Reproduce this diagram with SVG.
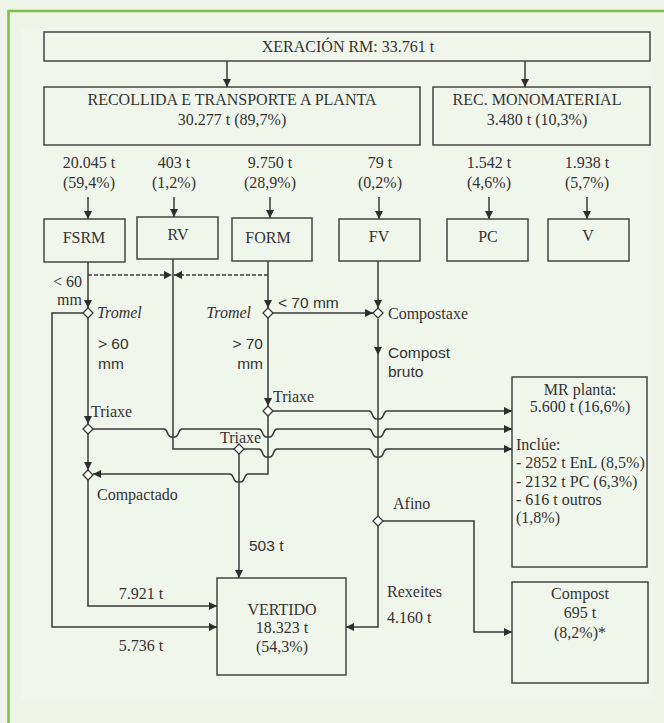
<svg xmlns="http://www.w3.org/2000/svg" width="664" height="723" viewBox="0 0 664 723">
<defs>
<style>
.t{font-family:"Liberation Serif",serif;font-size:16px;fill:#333}
.i{font-style:italic}
.s{font-family:"Liberation Sans",sans-serif;font-size:15.5px;fill:#333}
.m{text-anchor:middle}
.e{text-anchor:end}
.box{fill:none;stroke:#464646;stroke-width:1.5}
.ln{fill:none;stroke:#3a3a3a;stroke-width:1.5}
.ds{stroke-dasharray:4 2}
.dm{fill:#fff;stroke:#3a3a3a;stroke-width:1.3}
</style>
<marker id="a" viewBox="0 0 10 10" refX="10" refY="5" markerWidth="8" markerHeight="8" markerUnits="userSpaceOnUse" orient="auto"><path d="M0,0 L10,5 L0,10 z" fill="#2e2e2e"/></marker>
</defs>
<rect x="0" y="0" width="664" height="723" fill="#eef4e7"/>
<rect x="21" y="28" width="634" height="672" fill="#f1f6ec"/>
<rect x="8.5" y="11" width="670" height="730" fill="none" stroke="#7cc142" stroke-width="2.5"/>

<g id="xeracion"><rect class="box" x="44" y="32" width="606" height="29" stroke-width="1.8"/><text class="t m" x="348" y="52">XERACIÓN RM: 33.761 t</text></g>
<g id="recollida"><rect class="box" x="44" y="87" width="376" height="58"/><text class="t m" x="232" y="105">RECOLLIDA E TRANSPORTE A PLANTA</text><text class="t m" x="232" y="125">30.277 t (89,7%)</text></g>
<g id="monomaterial"><rect class="box" x="433" y="87" width="217" height="58"/><text class="t m" x="537" y="105">REC. MONOMATERIAL</text><text class="t m" x="537" y="125">3.480 t (10,3%)</text></g>

<g id="labels">
<text class="t m" x="89" y="168">20.045 t</text><text class="t m" x="89" y="188">(59,4%)</text>
<text class="t m" x="174" y="168">403 t</text><text class="t m" x="174" y="188">(1,2%)</text>
<text class="t m" x="270" y="168">9.750 t</text><text class="t m" x="270" y="188">(28,9%)</text>
<text class="t m" x="380" y="168">79 t</text><text class="t m" x="380" y="188">(0,2%)</text>
<text class="t m" x="489" y="168">1.542 t</text><text class="t m" x="489" y="188">(4,6%)</text>
<text class="t m" x="587" y="168">1.938 t</text><text class="t m" x="587" y="188">(5,7%)</text>
</g>

<g id="fsrm"><rect class="box" x="44" y="219" width="81" height="43"/><text class="t m" x="84" y="243">FSRM</text></g>
<g id="rv"><rect class="box" x="137" y="217" width="81" height="42"/><text class="t m" x="178" y="240">RV</text></g>
<g id="form"><rect class="box" x="232" y="218" width="80" height="43"/><text class="t m" x="268" y="243">FORM</text></g>
<g id="fv"><rect class="box" x="339" y="219" width="81" height="42"/><text class="t m" x="379" y="242">FV</text></g>
<g id="pc"><rect class="box" x="447" y="219" width="81" height="42"/><text class="t m" x="488" y="242">PC</text></g>
<g id="v"><rect class="box" x="548" y="219" width="81" height="42"/><text class="t m" x="588" y="241">V</text></g>

<g id="mr-planta"><rect class="box" x="512" y="377" width="135" height="190"/>
<text class="t m" x="580" y="395">MR planta:</text><text class="t m" x="580" y="412">5.600 t (16,6%)</text>
<text class="t" x="516" y="450">Inclúe:</text><text class="t" x="516" y="468">- 2852 t EnL (8,5%)</text><text class="t" x="516" y="487">- 2132 t PC (6,3%)</text><text class="t" x="516" y="505">- 616 t outros</text><text class="t" x="516" y="523">(1,8%)</text></g>
<g id="compost"><rect class="box" x="512" y="582" width="136" height="101"/><text class="t m" x="580" y="599">Compost</text><text class="t m" x="580" y="618">695 t</text><text class="t m" x="580" y="638">(8,2%)*</text></g>
<g id="vertido"><rect class="box" x="217" y="578" width="129" height="97"/><text class="t m" x="282" y="615">VERTIDO</text><text class="t m" x="282" y="633">18.323 t</text><text class="t m" x="282" y="652">(54,3%)</text></g>

<g id="connectors">
<path class="ln" d="M227 61 V87" marker-end="url(#a)"/>
<path class="ln" d="M525 61 V87" marker-end="url(#a)"/>
<path class="ln" d="M88 197 V219" marker-end="url(#a)"/>
<path class="ln" d="M174 197 V217" marker-end="url(#a)"/>
<path class="ln" d="M270 197 V218" marker-end="url(#a)"/>
<path class="ln" d="M379 197 V219" marker-end="url(#a)"/>
<path class="ln" d="M489 197 V219" marker-end="url(#a)"/>
<path class="ln" d="M587 197 V219" marker-end="url(#a)"/>
<path class="ln ds" d="M88 275 H172" marker-end="url(#a)"/>
<path class="ln ds" d="M268 275 H174" marker-end="url(#a)"/>
<path class="ln" d="M88 262 V308" marker-end="url(#a)"/>
<path class="ln" d="M268 261 V308" marker-end="url(#a)"/>
<path class="ln" d="M378 261 V308" marker-end="url(#a)"/>
<path class="ln" d="M273 313 H373" marker-end="url(#a)"/>
<path class="ln" d="M83 313 H52 V627 H217" marker-end="url(#a)"/>
<path class="ln" d="M88 318 V424" marker-end="url(#a)"/>
<path class="ln" d="M88 434 V470" marker-end="url(#a)"/>
<path class="ln" d="M88 480 V606 H217" marker-end="url(#a)"/>
<path class="ln" d="M268 318 V406" marker-end="url(#a)"/>
<path class="ln" d="M378 319 V355" marker-end="url(#a)"/>
<path class="ln" d="M378 355 V516"/>
<path class="ln" d="M173 259 V449 H234"/>
<path class="ln" d="M239 454 V578" marker-end="url(#a)"/>
<path class="ln" d="M273 411 H369 C373 411 372 419 376 419 H380 C384 419 383 411 387 411 H512" marker-end="url(#a)"/>
<path class="ln" d="M93 429 H164 C168 429 167 437 171 437 H175 C179 437 178 429 182 429 H259 C263 429 262 437 266 437 H270 C274 437 273 429 277 429 H369 C373 429 372 437 376 437 H380 C384 437 383 429 387 429 H512" marker-end="url(#a)"/>
<path class="ln" d="M244 449 H259 C263 449 262 457 266 457 H270 C274 457 273 449 277 449 H369 C373 449 372 457 376 457 H380 C384 457 383 449 387 449 H512" marker-end="url(#a)"/>
<path class="ln" d="M268 416 V474 H248 C244 474 245 482 241 482 H237 C233 482 234 474 230 474 H93" marker-end="url(#a)"/>
<path class="ln" d="M383 521 H474 V632 H512" marker-end="url(#a)"/>
<path class="ln" d="M378 526 V627 H346" marker-end="url(#a)"/>
</g>

<g id="diamonds">
<path class="dm" d="M88 308 L93 313 L88 318 L83 313 Z"/>
<path class="dm" d="M268 308 L273 313 L268 318 L263 313 Z"/>
<path class="dm" d="M378 308 L383 313 L378 318 L373 313 Z"/>
<path class="dm" d="M268 406 L273 411 L268 416 L263 411 Z"/>
<path class="dm" d="M88 424 L93 429 L88 434 L83 429 Z"/>
<path class="dm" d="M239 444 L244 449 L239 454 L234 449 Z"/>
<path class="dm" d="M88 470 L93 475 L88 480 L83 475 Z"/>
<path class="dm" d="M378 516 L383 521 L378 526 L373 521 Z"/>
</g>

<g id="flow-labels">
<text class="t e" x="82" y="287">&lt; 60</text>
<text class="t e" x="82" y="305">mm</text>
<text class="t i" x="97" y="318">Tromel</text>
<text class="t i e" x="251" y="318">Tromel</text>
<text class="s" x="278" y="308">&lt; 70 mm</text>
<text class="t" x="388" y="319">Compostaxe</text>
<text class="s" x="98" y="349">&gt; 60</text>
<text class="s" x="98" y="369">mm</text>
<text class="s e" x="263" y="349">&gt; 70</text>
<text class="s e" x="263" y="369">mm</text>
<text class="s" x="388" y="358">Compost</text>
<text class="s" x="388" y="377">bruto</text>
<text class="t" x="273" y="402">Triaxe</text>
<text class="t" x="91" y="417">Triaxe</text>
<text class="t" x="220" y="443">Triaxe</text>
<text class="t" x="97" y="500">Compactado</text>
<text class="t" x="393" y="509">Afino</text>
<text class="s" x="249" y="551">503  t</text>
<text class="t" x="387" y="597">Rexeites</text>
<text class="t" x="387" y="623">4.160 t</text>
<text class="t m" x="141" y="599">7.921 t</text>
<text class="t m" x="141" y="651">5.736 t</text>
</g>
</svg>
